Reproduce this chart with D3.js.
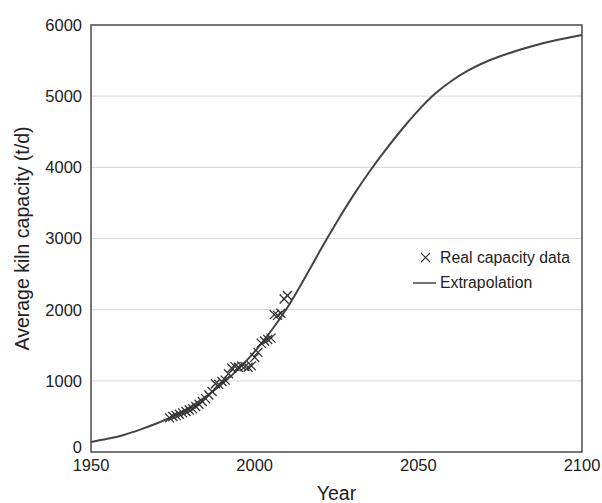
<!DOCTYPE html>
<html>
<head>
<meta charset="utf-8">
<script src="https://cdn.jsdelivr.net/npm/d3@7"></script>
<style>
  body { margin: 0; background: #fff; }
  svg { font-family: "Liberation Sans", Arial, Helvetica, sans-serif; }
</style>
</head>
<body>
<div id="chart"></div>
<script>
// extrapolated curve, read every 5 years
const curveYears = [1950, 1955, 1960, 1965, 1970, 1975, 1980, 1985, 1990, 1995,
  2000, 2005, 2010, 2015, 2020, 2025, 2030, 2035, 2040, 2045,
  2050, 2055, 2060, 2065, 2070, 2075, 2080, 2085, 2090, 2095, 2100];
const curveValues = [140, 185, 240, 315, 400, 500, 625, 775, 955, 1165,
  1410, 1700, 2030, 2420, 2830, 3225, 3595, 3935, 4245, 4535,
  4800, 5030, 5210, 5355, 5470, 5560, 5638, 5705, 5765, 5815, 5860];

// real capacity data (crosses)
const realYears = [1974, 1975, 1976, 1977, 1978, 1979, 1980, 1981, 1982, 1983,
  1984, 1985, 1986, 1987, 1988, 1989, 1990, 1991, 1992, 1993,
  1994, 1995, 1996, 1997, 1998, 1999, 2000, 2001, 2002, 2003,
  2004, 2005, 2006, 2007, 2008, 2009, 2010];
const realValues = [480, 500, 515, 530, 550, 570, 590, 610, 640, 670,
  710, 750, 800, 850, 960, 950, 990, 1010, 1100, 1180,
  1200, 1190, 1210, 1200, 1190, 1210, 1330, 1400, 1530, 1560,
  1580, 1600, 1930, 1920, 1950, 2150, 2200];

const xTicks = [1950, 2000, 2050, 2100];
const yTicks = [0, 1000, 2000, 3000, 4000, 5000, 6000];

const W = 602, H = 503,
  margin = {top: 25, right: 20, bottom: 51, left: 91};

const svg = d3.select("#chart").append("svg").attr("width", W).attr("height", H);

const x = d3.scaleLinear().domain([1950, 2100]).range([margin.left, W - margin.right]);
const y = d3.scaleLinear().domain([0, 6000]).range([H - margin.bottom, margin.top]);

// gridlines
svg.append("g").selectAll("line")
  .data(yTicks.filter(d => d > 0 && d < 6000))
  .join("line")
  .attr("x1", x(1950)).attr("x2", x(2100))
  .attr("y1", d => y(d)).attr("y2", d => y(d))
  .attr("stroke", "#dcdcdc").attr("stroke-width", 1.2);

// y tick labels
svg.append("g").selectAll("text")
  .data(yTicks)
  .join("text")
  .attr("x", margin.left - 9)
  .attr("y", d => y(d) + (d === 0 ? -5 : 0))
  .attr("dy", "0.36em")
  .attr("text-anchor", "end")
  .style("font-size", "16.5px")
  .attr("fill", "#222")
  .text(d => d);

// x tick labels
svg.append("g").selectAll("text")
  .data(xTicks)
  .join("text")
  .attr("x", d => x(d))
  .attr("y", y(0) + 19)
  .attr("text-anchor", "middle")
  .style("font-size", "16.5px")
  .attr("fill", "#222")
  .text(d => d);

// curve
const line = d3.line()
  .x((d, i) => x(curveYears[i]))
  .y(d => y(d))
  .curve(d3.curveNatural);

svg.append("path")
  .datum(curveValues)
  .attr("d", line)
  .attr("fill", "none")
  .attr("stroke", "#444")
  .attr("stroke-width", 2);

// crosses
const cr = 4.5;
const crosses = svg.append("g").attr("stroke", "#333").attr("stroke-width", 1.3);
realValues.forEach(function(v, i){
  const cx = x(realYears[i]), cy = y(v);
  crosses.append("path")
    .attr("d", "M" + (cx - cr) + "," + (cy - cr) + "L" + (cx + cr) + "," + (cy + cr) +
      "M" + (cx - cr) + "," + (cy + cr) + "L" + (cx + cr) + "," + (cy - cr));
});

// frame
svg.append("rect")
  .attr("x", x(1950)).attr("y", y(6000))
  .attr("width", x(2100) - x(1950)).attr("height", y(0) - y(6000))
  .attr("fill", "none").attr("stroke", "#4a4a4a").attr("stroke-width", 1.5);

// legend
const lg = svg.append("g");
lg.append("path")
  .attr("d", "M421,253L430,262M421,262L430,253")
  .attr("stroke", "#333").attr("stroke-width", 1.1);
lg.append("text").attr("x", 440).attr("y", 263)
  .style("font-size", "15.8px").attr("fill", "#222").text("Real capacity data");
lg.append("line").attr("x1", 413).attr("x2", 436).attr("y1", 283).attr("y2", 283)
  .attr("stroke", "#444").attr("stroke-width", 1.5);
lg.append("text").attr("x", 440).attr("y", 288)
  .style("font-size", "15.8px").attr("fill", "#222").text("Extrapolation");

// axis titles
svg.append("text")
  .attr("x", x(2025)).attr("y", 500)
  .attr("text-anchor", "middle")
  .style("font-size", "19.5px").attr("fill", "#222")
  .text("Year");

svg.append("text")
  .attr("transform", "translate(29," + ((y(0) + y(6000)) / 2) + ") rotate(-90)")
  .attr("text-anchor", "middle")
  .style("font-size", "19.5px").attr("fill", "#222")
  .text("Average kiln capacity (t/d)");
</script>
</body>
</html>
